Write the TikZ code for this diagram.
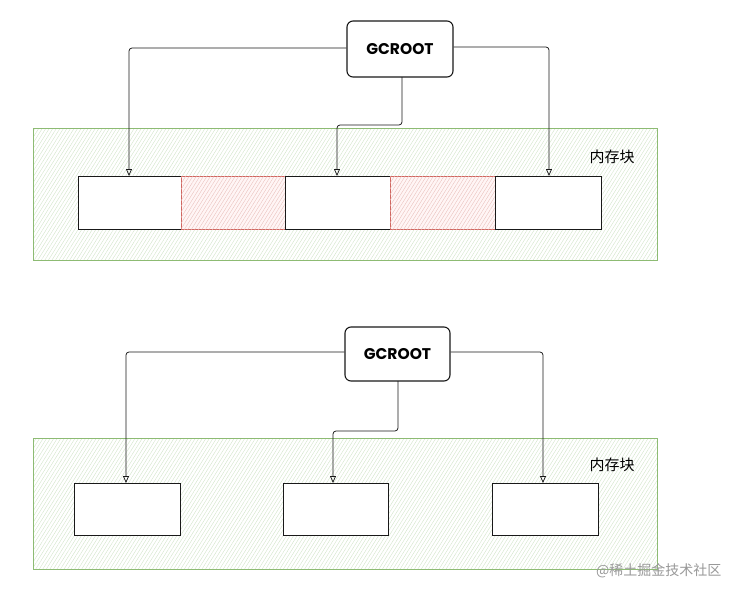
\documentclass[tikz,border=0pt]{standalone}
\usepackage{fontspec}
\newfontfamily\cjk{Noto Sans CJK SC}
\newfontfamily\gcfont{Poppins}[UprightFont=* Bold]
\usetikzlibrary{arrows.meta,patterns.meta}
\definecolor{grn}{HTML}{8DBB73}
\definecolor{grnh}{HTML}{CFE3C6}
\definecolor{redb}{HTML}{D0655F}
\definecolor{redh}{HTML}{E8BDB9}
\tikzset{
  x=1pt,y=-1pt,
  memarea/.style={draw=grn,line width=0.8pt,pattern={Lines[angle=58,distance=3pt,line width=0.35pt]},pattern color=grnh},
  objbox/.style={draw=black!90,line width=1pt,fill=white},
  freebox/.style={draw=redb,line width=0.8pt,fill=red!4,postaction={pattern={Lines[angle=58,distance=3pt,line width=0.35pt]},pattern color=redh}},
  rootbox/.style={draw=black!90,line width=1.1pt,rounded corners=6pt,fill=white},
  conn/.style={draw=black!90,line width=0.75pt,rounded corners=3pt,-{Triangle[open,length=7pt,width=6pt]}},
  roottext/.style={font=\gcfont\fontsize{15.5}{18}\selectfont},
  memtext/.style={font=\cjk\fontsize{15}{17}\selectfont},
}
\begin{document}
\begin{tikzpicture}
\useasboundingbox[fill=white] (0,0) rectangle (740,598);
% ---------- top ----------
\path[memarea] (33,128) rectangle (657,260);
\node[memtext] (m1) at (612,157) {内存块};
\path[objbox] (78,176) rectangle (181,229);
\path[freebox] (181,176) rectangle (285,229);
\path[objbox] (285,176) rectangle (390,229);
\path[freebox] (390,176) rectangle (495,229);
\path[objbox] (495,176) rectangle (601,229);
\coordinate (t1) at (129,176);
\coordinate (t2) at (337,176);
\coordinate (t3) at (549,176);
\node[rootbox,minimum width=106pt,minimum height=56pt] (r1) at (400,49) {};
\node[roottext] (r1t) at (r1) {GCROOT};
\draw[conn] (r1.west |- 0,48) -- (129,48) -- (t1);
\draw[conn] (r1.east |- 0,47) -- (549,47) -- (t3);
\draw[conn] (402,77) -- (402,125) -- (337,125) -- (t2);
% ---------- bottom ----------
\path[memarea] (33,438) rectangle (657,569);
\node[memtext] (m2) at (612,465) {内存块};
\path[objbox] (74,483) rectangle (180,535);
\path[objbox] (283,483) rectangle (388,535);
\path[objbox] (492,483) rectangle (598,535);
\coordinate (b1) at (126,483);
\coordinate (b2) at (333,483);
\coordinate (b3) at (543,483);
\node[rootbox,minimum width=105pt,minimum height=54pt] (r2) at (397.5,354) {};
\node[roottext] (r2t) at (r2) {GCROOT};
\draw[conn] (r2.west |- 0,352) -- (126,352) -- (b1);
\draw[conn] (r2.east |- 0,352) -- (543,352) -- (b3);
\draw[conn] (398,381) -- (398,431) -- (333,431) -- (b2);
% watermark
\node[font=\cjk\fontsize{14}{16}\selectfont,text=black!40,anchor=east] (wm) at (725,571) {@稀土掘金技术社区};
\end{tikzpicture}
\end{document}
